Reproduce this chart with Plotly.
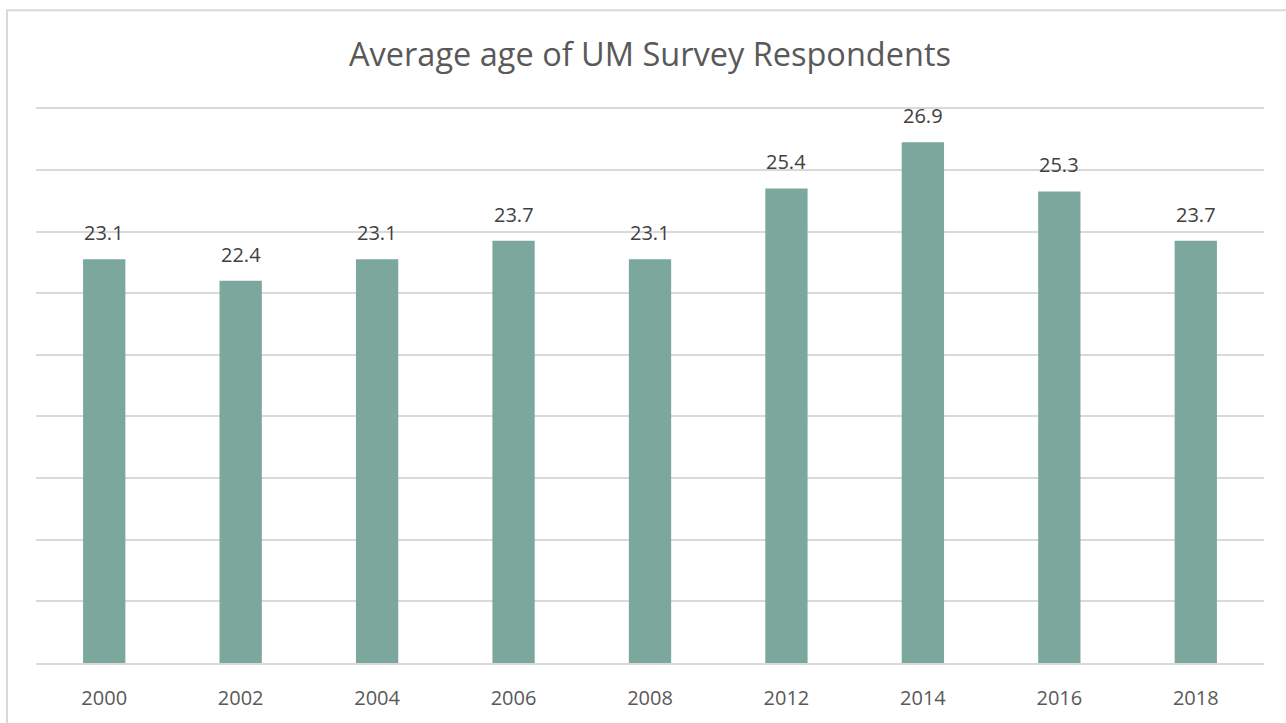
import plotly.graph_objects as go

years = ["2000", "2002", "2004", "2006", "2008", "2012", "2014", "2016", "2018"]
avg_age = [23.1, 22.4, 23.1, 23.7, 23.1, 25.4, 26.9, 25.3, 23.7]
title_text = "Average age of UM Survey Respondents"

FONT = "Open Sans, Liberation Sans, sans-serif"

fig = go.Figure()
fig.add_trace(go.Bar(
    x=years, y=avg_age,
    marker=dict(color="#7ba79d", line=dict(width=0)),
    hoverinfo="x+y",
))

# category axis: place annotations by category index
for i, v in enumerate(avg_age):
    fig.add_annotation(x=i, y=v, xref="x", yref="y", text=f"{v:.1f}", showarrow=False,
                       yanchor="bottom", yshift=11,
                       font=dict(family=FONT, size=20, color="#404040"))

TOP = 98.7
fig.update_layout(
    width=1286, height=723,
    margin=dict(l=36, r=22, t=TOP, b=57),
    paper_bgcolor="white", plot_bgcolor="white",
    bargap=0.69,
    showlegend=False,
    title=dict(text=title_text, xref="paper", x=0.5, xanchor="center", y=1 - 55 / 723, yanchor="middle",
               font=dict(family=FONT, size=32.5, color="#595959")),
    xaxis=dict(type="category", categoryorder="array", categoryarray=years,
               range=[-0.5, len(years) - 0.5],
               showgrid=False, showline=True, linecolor="#d9d9d9", linewidth=1.5,
               zeroline=False,
               tickfont=dict(family=FONT, size=20, color="#595959"),
               ticks="", ticklabelstandoff=16),
    yaxis=dict(range=[10, 28.3], dtick=2, showticklabels=False, showgrid=True,
               gridcolor="#d9d9d9", gridwidth=1.5, zeroline=False, showline=False,
               ticks=""),
    shapes=[dict(type="rect", xref="paper", yref="paper",
                 x0=(7 - 36) / 1228, x1=1.1, y0=-0.3, y1=1 + (TOP - 9.5) / (723 - TOP - 57),
                 line=dict(color="#d9d9d9", width=2), fillcolor="rgba(0,0,0,0)", layer="below")],
)

fig.write_html("out.html")
